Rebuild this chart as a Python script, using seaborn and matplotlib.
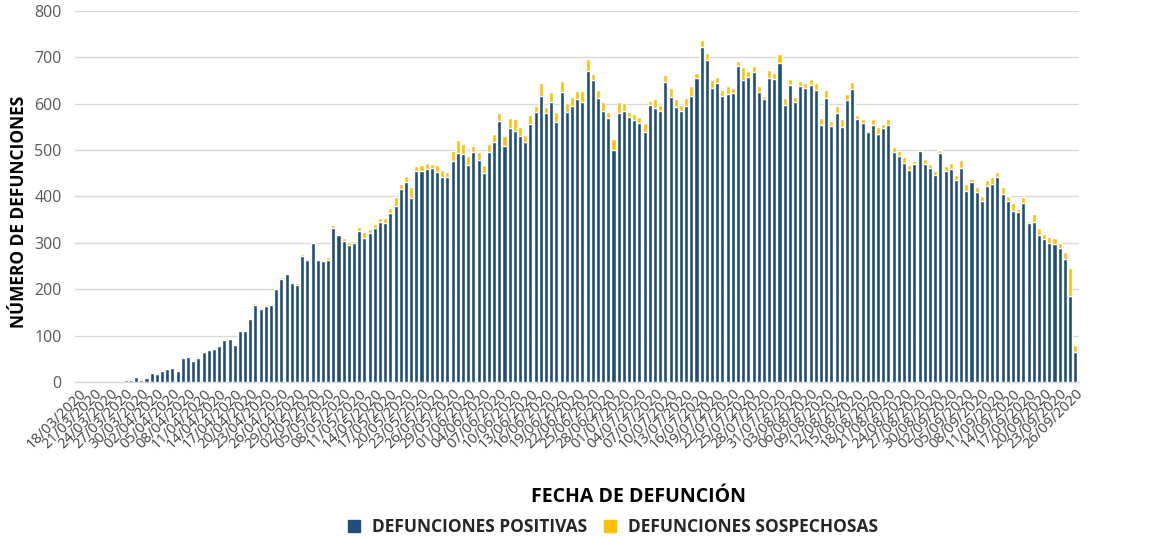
import numpy as np
import pandas as pd
import matplotlib
matplotlib.use("Agg")
import matplotlib.pyplot as plt
import seaborn as sns
from matplotlib.lines import Line2D

# ---- data ----
dates = pd.date_range("2020-03-18", "2020-09-26", freq="D").strftime("%d/%m/%Y").tolist()

totales = [
    1, 0, 1, 0, 0, 1, 1, 1, 1, 5, 5, 12, 5, 9, 19, 18, 24, 29, 31, 25, 52, 54, 45,
    53, 65, 69, 72, 79, 92, 95, 83, 110, 110, 136, 171, 157, 168, 166, 203, 226, 236, 216, 213, 276,
    265, 302, 265, 262, 269, 338, 320, 311, 301, 305, 334, 323, 329, 340, 353, 353, 375, 399, 427, 445, 420,
    466, 468, 473, 470, 468,
    458, 453, 498, 522, 513, 487, 508, 495, 468, 513, 534, 579, 530, 569, 566, 550, 532, 576, 594, 644,
    592, 626, 581,
    648, 601, 615, 628, 628, 696, 664, 630, 603, 582, 524, 604, 602, 583, 578, 572, 559, 606, 611, 596,
    662, 633, 611, 598,
    612, 639, 667, 736, 710, 650, 657, 629, 638, 633, 691, 679, 670, 681, 638, 617, 672, 665, 707, 612, 652,
    614, 649, 644, 653, 644, 568, 629, 562, 595, 567, 620, 646, 575, 567, 542, 566, 550, 557, 566, 507, 498,
    486, 467, 477, 502, 480, 470, 455, 500, 465,
    473, 446, 478, 426, 437, 420, 400, 435, 441, 452, 420, 400, 385, 373, 399, 348, 362, 333,
    320, 312, 310, 300, 280, 245, 80,
]

positivas = [
    1, 0, 1, 0, 0, 1, 1, 1, 1, 5, 5, 12, 5, 9, 19, 18, 24, 29, 31, 25, 52, 54, 45,
    53, 65, 69, 72, 78, 90, 93, 81, 110, 110, 136, 167, 157, 165, 166, 201, 222, 233, 213, 210, 272,
    263, 299, 264, 260, 263, 333, 316, 304, 295, 300, 325, 311, 322, 333, 344, 343, 365, 380, 416, 431, 397,
    455, 455, 460, 462, 453,
    441, 441, 476, 493, 491, 467, 495, 478, 451, 495, 517, 563, 508, 547, 542, 530, 517, 556, 582, 616,
    580, 604, 560,
    625, 582, 595, 609, 604, 670, 650, 612, 584, 570, 501, 580, 584, 572, 565, 559, 539, 596, 591, 584,
    647, 614, 592, 585,
    595, 617, 655, 722, 693, 633, 645, 616, 621, 622, 681, 650, 658, 669, 624, 610, 655, 652, 687, 598, 641,
    603, 638, 633, 641, 630, 554, 613, 551, 580, 549, 607, 632, 567, 559, 539, 555, 535, 547, 555, 496, 487,
    473, 457, 470, 498, 470, 462, 446, 493, 455,
    460, 435, 462, 412, 431, 409, 390, 423, 427, 441, 406, 390, 369, 366, 385, 342, 346, 318,
    308, 300, 298, 290, 266, 185, 65,
]

tick_labels = dates[::3]

BLUE = "#1F4E79"
YELLOW = "#FFC000"

df = pd.DataFrame({"fecha": dates, "total": totales, "positivas": positivas})

# ---- figure ----
sns.set_theme(style="white")
plt.rcParams["font.family"] = ["Open Sans", "DejaVu Sans"]

fig = plt.figure(figsize=(11.75, 5.39), dpi=100)
ax = fig.add_axes([0.0642, 0.291, 0.854, 0.689])

sns.barplot(data=df, x="fecha", y="total", color=YELLOW, saturation=1,
            width=0.78, ax=ax, zorder=3)
sns.barplot(data=df, x="fecha", y="positivas", color=BLUE, saturation=1,
            width=0.78, ax=ax, zorder=4)

ax.set_ylim(0, 800)
ax.set_xlim(-0.7, len(dates) - 0.3)
ax.set_yticks(range(0, 801, 100))
ax.yaxis.grid(True, color="#D9D9D9", linewidth=1, zorder=0)
ax.set_axisbelow(True)

ticks_pos = list(range(0, len(dates), 3))
ax.set_xticks(ticks_pos)
ax.set_xticklabels(tick_labels, rotation=45, ha="right", rotation_mode="anchor",
                   fontsize=10.5, color="#404040")
ax.tick_params(axis="x", length=0, pad=3)
ax.tick_params(axis="y", length=0, labelsize=11.5, labelcolor="#595959", pad=10)

for s in ["top", "right", "left"]:
    ax.spines[s].set_visible(False)
ax.spines["bottom"].set_color("#D9D9D9")
ax.spines["bottom"].set_linewidth(1)

ax.set_xlabel("")
ax.set_ylabel("")
fig.text(0.016, 0.607, "NÚMERO DE DEFUNCIONES", rotation=90, ha="center", va="center",
         fontsize=12.5, fontweight="bold", color="black")
fig.text(0.543, 0.078, "FECHA DE DEFUNCIÓN", ha="center", va="center",
         fontsize=14, fontweight="bold", color="black")

handles = [
    Line2D([0], [0], marker="s", linestyle="", markersize=8, color=BLUE),
    Line2D([0], [0], marker="s", linestyle="", markersize=8, color=YELLOW),
]
leg = fig.legend(handles, ["DEFUNCIONES POSITIVAS", "DEFUNCIONES SOSPECHOSAS"],
                 loc="center", bbox_to_anchor=(0.517, 0.022), ncol=2, frameon=False,
                 handletextpad=0.05, columnspacing=0.3, prop={"weight": "bold", "size": 12.5})

fig.savefig("out.png", dpi=100)
